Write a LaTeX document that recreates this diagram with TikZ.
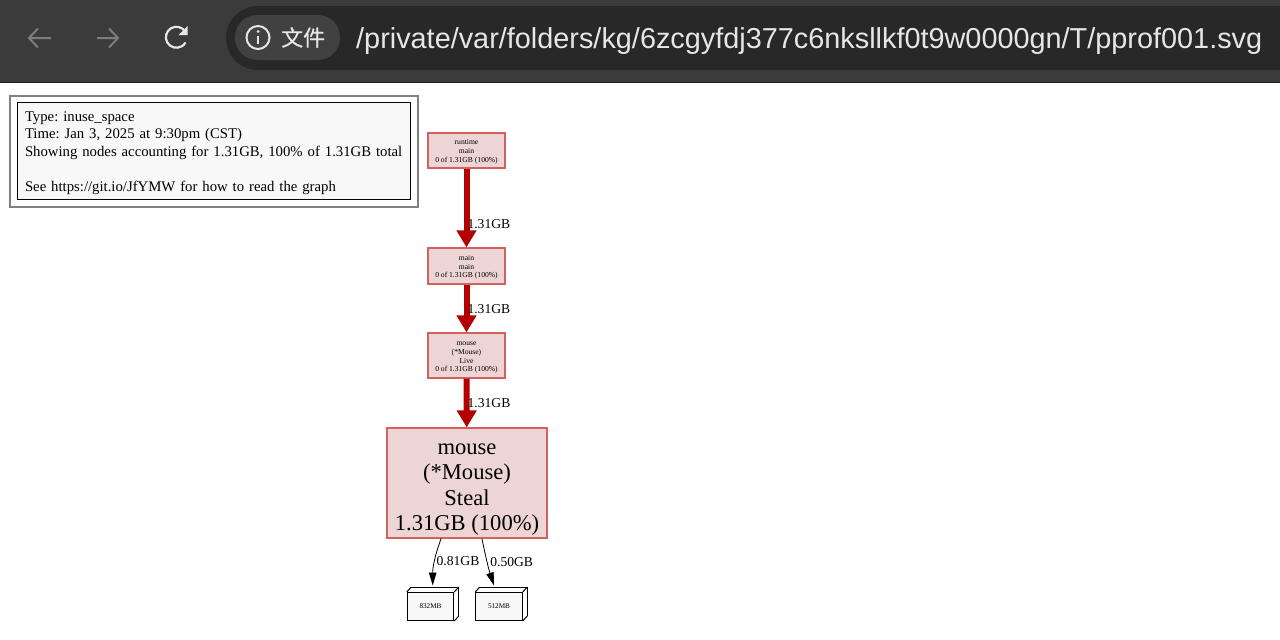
\documentclass[tikz,border=0pt]{standalone}
\usepackage{fontspec}
\setmainfont{Liberation Serif}
\newfontfamily\barfont{Liberation Sans}
\newfontfamily\cjkfont[FakeBold=0.5]{Noto Sans CJK SC}
\usetikzlibrary{arrows.meta}
\definecolor{barbg}{HTML}{3B3B3B}
\definecolor{barline}{HTML}{1F1F1F}
\definecolor{pillbg}{HTML}{282828}
\definecolor{chipbg}{HTML}{414141}
\definecolor{bartext}{HTML}{E6E6E6}
\definecolor{navgray}{HTML}{7C7C7C}
\definecolor{hotred}{HTML}{B20000}
\definecolor{hotfill}{HTML}{EDD5D5}
\definecolor{hotline}{HTML}{D4605F}
\definecolor{legendfill}{HTML}{F8F8F8}

\begin{document}
\frenchspacing
\begin{tikzpicture}[x=1pt,y=-1pt]
        \tikzset{func/.style = {shape=rectangle,draw=hotline,fill=hotfill,line width=1.2pt,align=center,inner sep=0pt,minimum width=77pt}}
        \tikzset{small/.style = {func,font=\fontsize{7.6}{8.7}\selectfont}}
        \tikzset{big/.style = {func,font=\fontsize{22.6}{25.3}\selectfont,minimum width=160pt,minimum height=110pt}}
        \tikzset{leaf/.style = {shape=rectangle,draw=black,fill=legendfill,line width=1pt,inner sep=0pt,minimum width=46.5pt,minimum height=28pt,font=\fontsize{7.2}{8.4}\selectfont,
            append after command={
                (\tikzlastnode.north west) edge[draw=black,line width=1pt] ++(4.5,-5)
                (\tikzlastnode.north east) edge[draw=black,line width=1pt] ++(4.5,-5)
                (\tikzlastnode.south east) edge[draw=black,line width=1pt] ++(4.5,-5)
                ([shift={(4.5,-5)}]\tikzlastnode.north west) edge[draw=black,line width=1pt] ([shift={(4.5,-5)}]\tikzlastnode.north east)
                ([shift={(4.5,-5)}]\tikzlastnode.north east) edge[draw=black,line width=1pt] ([shift={(4.5,-5)}]\tikzlastnode.south east)
            }}}
        \tikzset{hotedge/.style = {draw=hotred,line width=6pt,-{Triangle[width=19pt,length=17pt]},hotred}}
        \tikzset{thinedge/.style = {draw=black,line width=0.8pt,-{Triangle[width=7.5pt,length=13pt]}}}
        \tikzset{weight/.style = {anchor=west,inner sep=0pt,font=\fontsize{13.6}{14}\selectfont,text=black}}
        \tikzset{navicon/.style = {draw=navgray,line width=2pt}}

        \useasboundingbox (0,0) rectangle (1280,640);
        \fill[white] (0,0) rectangle (1280,640);

        % browser bar
        \fill[barbg] (0,0) rectangle (1280,82);
        \fill[barline] (0,81.5) rectangle (1280,83);
        \fill[pillbg] (1290,6) -- (258,6) arc[start angle=-90,delta angle=-180,radius=32] -- (1290,70) -- cycle;
        \fill[chipbg,rounded corners=22pt] (235,15) rectangle (340,60);
        \draw[navicon] (51,38) -- (29,38) (38,28.5) -- (29,38) -- (38,47.5);
        \draw[navicon] (97,38) -- (118,38) (109,28.5) -- (118,38) -- (109,47.5);
        \draw[bartext,line width=2.2pt] (185.5,32) arc[start angle=-30,delta angle=-300,radius=10.5];
        \fill[bartext] (187.5,26) -- (187.5,35) -- (178.5,35) -- cycle;
        \draw[bartext,line width=2pt] (258,37.5) circle[radius=11.5];
        \fill[bartext] (258,31.5) circle[radius=1.5];
        \draw[bartext,line width=2pt] (258,35.5) -- (258,44);
        \node[anchor=west,inner sep=0pt,text=bartext,font=\cjkfont\fontsize{22}{22}\selectfont] (scheme) at (281,37.5) {文件};
        \node[anchor=west,inner sep=0pt,text=bartext,font=\barfont\fontsize{28.85}{29}\selectfont] (url) at (356,41) {/private/var/folders/kg/6zcgyfdj377c6nksllkf0t9w0000gn/T/pprof001.svg};

        % legend
        \draw[draw=gray,line width=2pt,fill=white] (9.5,95.5) rectangle (418,206.5);
        \node[shape=rectangle,draw=black,fill=legendfill,line width=1pt,minimum width=393pt,minimum height=97pt,inner sep=0pt,text width=377pt,align=left,font=\fontsize{14.75}{17.7}\selectfont] (legend) at (213.5,150.5)
            {\rule{0pt}{15pt}Type: inuse\_space\\Time: Jan 3, 2025 at 9:30pm (CST)\\\mbox{Showing nodes accounting for 1.31GB, 100\% of 1.31GB total}\\[17.7pt]See https://git.io/JfYMW for how to read the graph};

        % vertices
        \node[small,minimum height=35pt] (rtmain) at (466.5,150.5) {\rule{0pt}{8pt}runtime\\main\\0 of 1.31GB (100\%)};
        \node[small,minimum height=36pt] (mainmain) at (466.5,266) {\rule{0pt}{8pt}main\\main\\0 of 1.31GB (100\%)};
        \node[small,minimum height=45pt] (live) at (466.5,355.5) {\rule{0pt}{8pt}mouse\\(*Mouse)\\Live\\0 of 1.31GB (100\%)};
        \node[big] (steal) at (467,483) {\rule{0pt}{24pt}mouse\\(*Mouse)\\Steal\\1.31GB (100\%)};
        \node[leaf] (mb832) at (430.5,606.5) {832MB};
        \node[leaf] (mb512) at (499,606.5) {512MB};

        %edges
        \draw[hotedge] (rtmain) to node[weight,pos=0.70,xshift=-2pt] {1.31GB} (mainmain);
        \draw[hotedge] (mainmain) to node[weight,pos=0.52,xshift=-2pt] {1.31GB} (live);
        \draw[hotedge] (live) to node[weight,pos=0.50,xshift=-2pt] {1.31GB} (steal);
        \draw[thinedge] (steal.245) to[out=-110,in=90] node[weight,pos=0.47,xshift=1.5pt,yshift=-1pt] {0.81GB} ([xshift=2.2pt,yshift=6.5pt]mb832.north);
        \draw[thinedge] (steal.285) to[out=-78,in=108] node[weight,pos=0.47,xshift=3pt,yshift=-1pt] {0.50GB} ([xshift=-5pt,yshift=6.5pt]mb512.north);
    \end{tikzpicture}
\end{document}
